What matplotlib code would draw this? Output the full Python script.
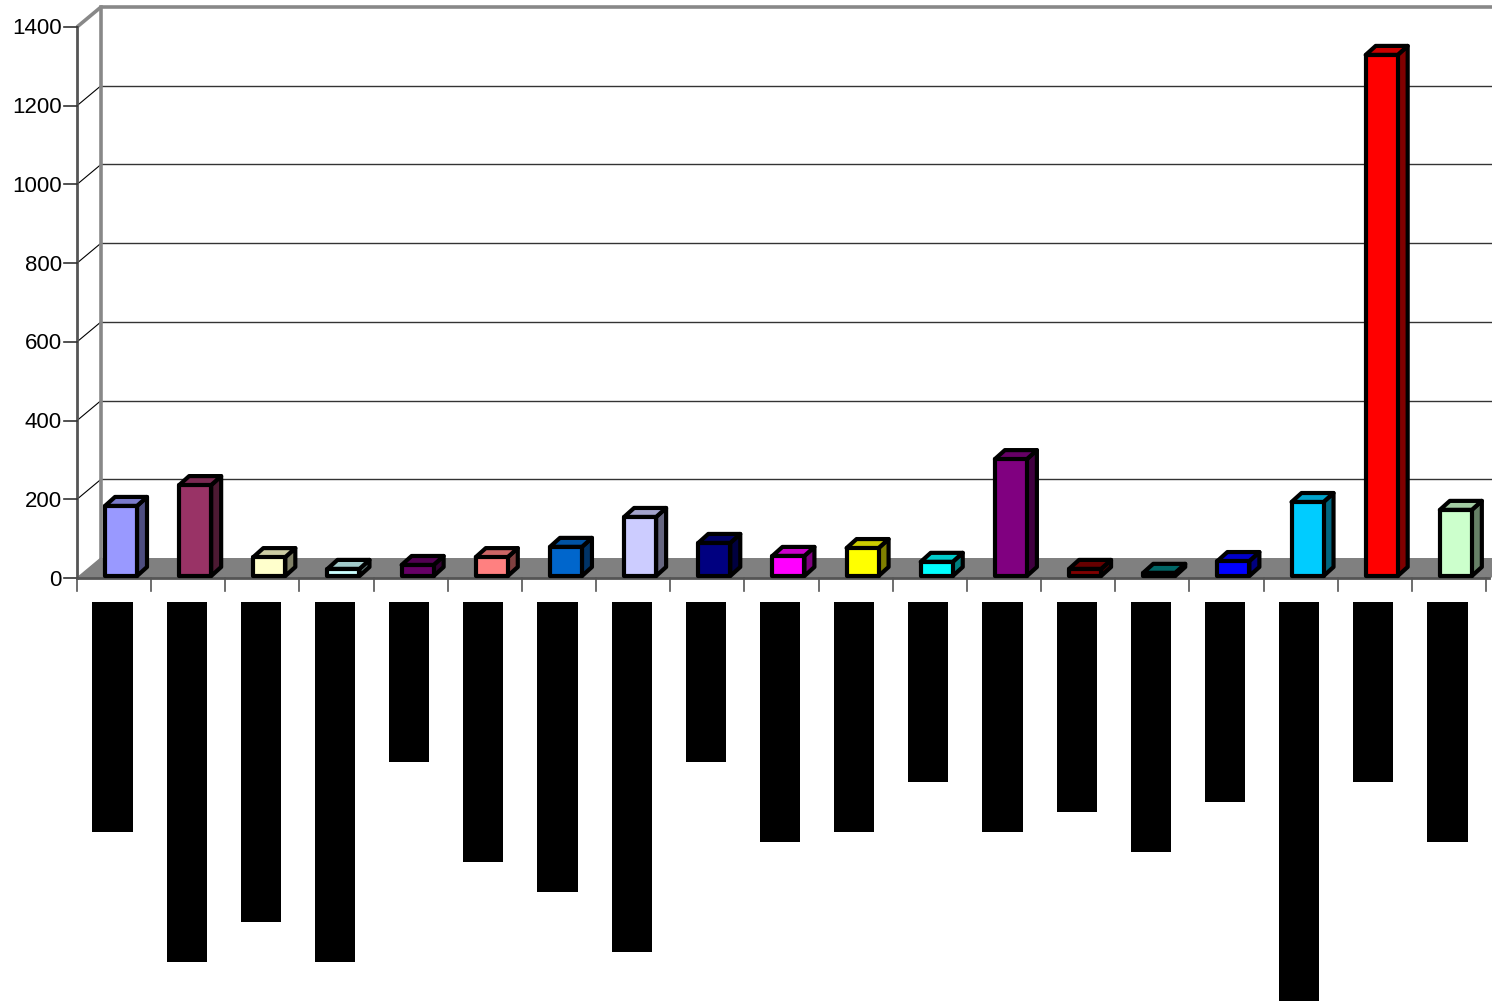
import numpy as np
import matplotlib
matplotlib.use('Agg')
import matplotlib.pyplot as plt
from matplotlib.patches import Polygon
from matplotlib.colors import to_rgb

# bar values
values = [178, 231, 48, 18, 28, 48, 74, 150, 84, 51, 71, 36, 297, 18, 8, 38, 188, 1324, 168]
colors = ['#9999FF', '#993366', '#FFFFCC', '#CCFFFF', '#660066', '#FF8080', '#0066CC',
          '#CCCCFF', '#000080', '#FF00FF', '#FFFF00', '#00FFFF', '#800080', '#800000',
          '#008080', '#0000FF', '#00CCFF', '#FF0000', '#CCFFCC']
# category labels are blacked out in the source; lengths kept
label_len = [21, 34, 30, 34, 14, 24, 27, 33, 14, 22, 21, 16, 21, 19, 23, 18, 38, 16, 22]
labels = ['\u2588' * n for n in label_len]
yticks = [0, 200, 400, 600, 800, 1000, 1200, 1400]

n = len(values)
W, H = 1492, 1001
fig = plt.figure(figsize=(W / 100, H / 100), dpi=100)
ax = fig.add_axes([77 / W, 423 / H, 1409 / W, 551 / H])
ax.set_xlim(0, n)
ax.set_ylim(0, 1400)
ax.axis('off')

# pixel -> data unit helpers
px_x = 1409 / n
px_y = 551 / 1400
DX, DY = 24 / px_x, 20 / px_y      # wall depth
bdx, bdy = 10 / px_x, 9 / px_y      # bar depth
base = 2 / px_y                     # bars sit slightly behind the front edge

# floor
ax.add_patch(Polygon([(0, 0), (DX, DY), (n + DX + 1, DY), (n + 0.04, 0)],
                     closed=True, facecolor='#808080', edgecolor='none', zorder=1, clip_on=False))

# back wall gridlines + side wall diagonals
for v in yticks[1:-1]:
    ax.plot([DX, n + 2], [v + DY, v + DY], color='#333333', lw=1, zorder=1, clip_on=False)
    ax.plot([0, DX], [v, v + DY], color='black', lw=0.8, zorder=1, clip_on=False)
ax.plot([0, DX, n + 2], [1400, 1400 + DY, 1400 + DY], color='#888888', lw=2.6,
        zorder=2, clip_on=False, solid_capstyle='butt')
ax.plot([DX, DX], [DY, 1400 + DY], color='#888888', lw=2.6, zorder=2, clip_on=False)
ax.plot([0, DX], [0, DY], color='#808080', lw=1, zorder=2, clip_on=False)

# front axes
ax.plot([0, 0], [0, 1400], color='#555555', lw=2, zorder=3, clip_on=False)
ax.plot([0, n + 0.04], [0, 0], color='#555555', lw=2, zorder=3, clip_on=False)
for v in yticks:
    ax.plot([-13 / px_x, 0], [v, v], color='#333333', lw=1.2, zorder=3, clip_on=False)
    ax.text(-15 / px_x, v - 2 / px_y, str(v), ha='right', va='center', fontsize=16,
            family='Liberation Sans', color='black')
for i in range(n + 1):
    ax.plot([i, i], [0, -13 / px_y], color='#555555', lw=1.2, zorder=3, clip_on=False)


def shade(c, f):
    r, g, b = to_rgb(c)
    return (r * f, g * f, b * f)


# bars
for i, (v, c) in enumerate(zip(values, colors)):
    x0 = i + 28 / px_x
    w = 32 / px_x
    y0, y1 = base, base + v
    kw = dict(closed=True, edgecolor='black', lw=3.0, joinstyle='round', zorder=5, clip_on=False)
    ax.add_patch(Polygon([(x0 + w, y0), (x0 + w + bdx, y0 + bdy), (x0 + w + bdx, y1 + bdy), (x0 + w, y1)],
                         facecolor=shade(c, 0.5), **kw))
    ax.add_patch(Polygon([(x0, y1), (x0 + bdx, y1 + bdy), (x0 + w + bdx, y1 + bdy), (x0 + w, y1)],
                         facecolor=shade(c, 0.8), **kw))
    ax.add_patch(Polygon([(x0, y0), (x0, y1), (x0 + w, y1), (x0 + w, y0)],
                         facecolor=c, **kw))

# category labels (rendered as black blocks)
for i, lab in enumerate(labels):
    ax.text(i + 0.48, -34 / px_y, lab, rotation=90, ha='center', va='top',
            fontsize=12, family='DejaVu Sans Mono', color='black',
            bbox=dict(boxstyle='square,pad=0.6', facecolor='black', edgecolor='none'))

fig.savefig('out.png', dpi=100)
